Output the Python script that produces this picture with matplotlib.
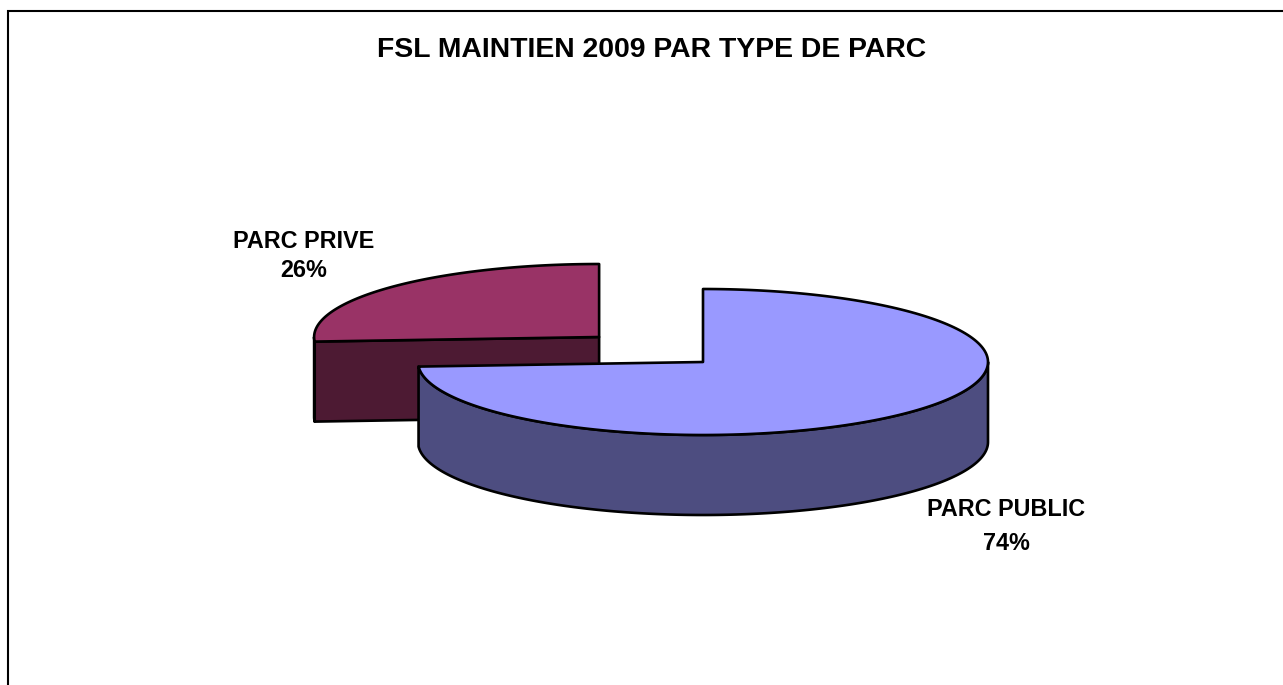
import numpy as np
import matplotlib
matplotlib.use('Agg')
import matplotlib.pyplot as plt
from matplotlib.patches import Polygon

categories = ['PARC PUBLIC', 'PARC PRIVE']
values = [74, 26]
title = 'FSL MAINTIEN 2009 PAR TYPE DE PARC'

top_colors = ['#9999FF', '#993366']
side_colors = ['#4D4D80', '#4D1A33']
explode = [0.0, 0.5]
label_pos = [(1006, 509, 543), (304, 241, 270)]

plt.rcParams['font.family'] = ['Liberation Sans', 'DejaVu Sans']

W, H = 1283, 685
fig = plt.figure(figsize=(W / 100, H / 100), dpi=100)
ax = fig.add_axes([0, 0, 1, 1])
ax.set_xlim(0, W)
ax.set_ylim(H, 0)
ax.axis('off')

cx, cy = 703, 362
a, b = 285, 73
depth = 80
lw = 1.9


def pt(t, ox, oy, dz=0.0):
    t = np.radians(t)
    return ox + a * np.cos(t), oy - b * np.sin(t) + dz


def arc(t1, t2, ox, oy, dz=0.0, n=200):
    ts = np.linspace(t1, t2, n)
    xs, ys = pt(ts, ox, oy, dz)
    return list(zip(xs, ys))


total = float(sum(values))
slices = []
ang = 90.0
for i, v in enumerate(values):
    sweep = 360.0 * v / total
    t1, t2 = ang - sweep, ang
    ang = t1
    mid = np.radians((t1 + t2) / 2)
    ox = cx + explode[i] * a * np.cos(mid)
    oy = cy - explode[i] * b * np.sin(mid)
    slices.append((i, t1, t2, ox, oy))

# draw back slices first
for i, t1, t2, ox, oy in sorted(slices, key=lambda s: s[4]):
    kw = dict(edgecolor='black', linewidth=lw, joinstyle='round')
    # radial faces
    if np.cos(np.radians(t2)) < -1e-6:
        p = pt(t2, ox, oy)
        q = pt(t2, ox, oy, depth)
        ax.add_patch(Polygon([(ox, oy), p, q, (ox, oy + depth)],
                             facecolor=side_colors[i], **kw))
    if np.cos(np.radians(t1)) > 1e-6:
        p = pt(t1, ox, oy)
        q = pt(t1, ox, oy, depth)
        ax.add_patch(Polygon([(ox, oy), p, q, (ox, oy + depth)],
                             facecolor=side_colors[i], **kw))
    # outer visible side (front half: 180..360 mod 360)
    for k in range(-2, 3):
        lo = max(t1, 180 + 360 * k)
        hi = min(t2, 360 + 360 * k)
        if hi > lo:
            top = arc(lo, hi, ox, oy)
            bot = arc(hi, lo, ox, oy, depth)
            ax.add_patch(Polygon(top + bot, facecolor=side_colors[i], **kw))
    # top face
    ax.add_patch(Polygon([(ox, oy)] + arc(t1, t2, ox, oy),
                         facecolor=top_colors[i], **kw))

# labels
for i, (cat, v) in enumerate(zip(categories, values)):
    x, y1, y2 = label_pos[i]
    ax.text(x, y1, cat, ha='center', va='center', fontsize=16.8, fontweight='bold')
    ax.text(x, y2, f'{round(100 * v / total)}%', ha='center', va='center',
            fontsize=16.8, fontweight='bold')

ax.text(652, 50, title, ha='center', va='center', fontsize=20.4, fontweight='bold')

# chart frame (left and top edges visible)
ax.plot([8, 8, W + 5], [H + 5, 11, 11], color='black', linewidth=1.5,
        solid_joinstyle='miter', clip_on=False)

fig.savefig('out.png', dpi=100)
